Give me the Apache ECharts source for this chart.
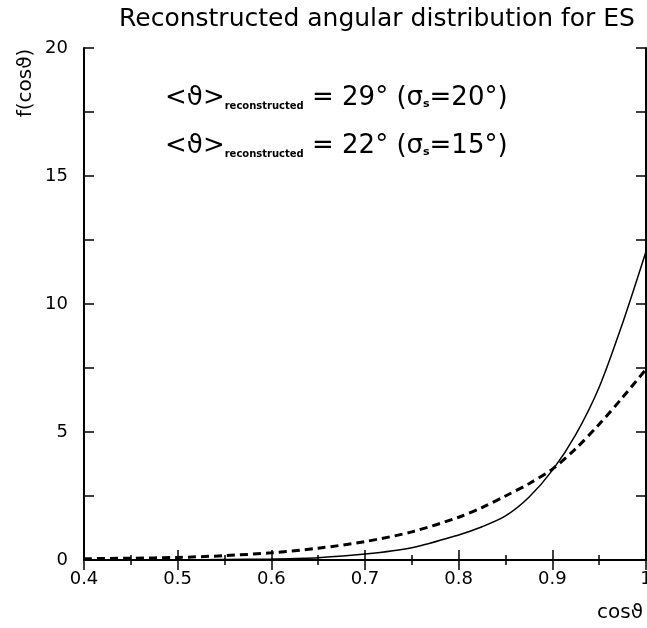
<!DOCTYPE html>
<html>
<head>
<meta charset="utf-8">
<script src="https://cdn.jsdelivr.net/npm/echarts@6/dist/echarts.min.js"></script>
<style>
  html, body { margin: 0; padding: 0; background: #fff; overflow: hidden; }
  #chart { width: 647px; height: 628px; }
</style>
</head>
<body>
<div id="chart"></div>
<script>
// cos(theta) sample points
const cosTheta = [0.40, 0.45, 0.50, 0.55, 0.60, 0.65, 0.70, 0.75, 0.80, 0.825, 0.85, 0.875, 0.90, 0.925, 0.95, 0.975, 1.00]
// sigma_s = 15 deg (solid)
const fSolid = [0.0, 0.0, 0.01, 0.02, 0.04, 0.09, 0.23, 0.48, 0.98, 1.3, 1.72, 2.45, 3.5, 4.9, 6.75, 9.25, 12.05]
// sigma_s = 20 deg (dashed)
const fDashed = [0.05, 0.07, 0.10, 0.17, 0.28, 0.46, 0.72, 1.1, 1.67, 2.05, 2.5, 2.98, 3.55, 4.35, 5.3, 6.35, 7.45]

const xTicks = [0.4, 0.5, 0.6, 0.7, 0.8, 0.9, 1.0]
const yTicks = [0, 5, 10, 15, 20]

const FONT = 'DejaVu Sans'

function pairs(xs, ys) {
  return xs.map((x, i) => [x, ys[i]])
}

const chart = echarts.init(document.getElementById('chart'))

const axisBase = {
  axisLine: { show: true, lineStyle: { color: '#000', width: 2 } },
  axisTick: { show: true, inside: true, length: 10, lineStyle: { color: '#000', width: 1.5 } },
  splitLine: { show: false }
}

const annRich = {
  a: { fontFamily: FONT, fontSize: 26, fill: '#000', lineHeight: 32 },
  s: { fontFamily: FONT, fontSize: 10, fontWeight: 'bold', fill: '#000', lineHeight: 32, padding: [17, 0, 0, 0] },
  t: { fontFamily: FONT, fontSize: 11, fontWeight: 'bold', fill: '#000', lineHeight: 32, padding: [13, 0, 0, 0] }
}

const option = {
  animation: false,
  backgroundColor: '#fff',
  title: {
    text: 'Reconstructed angular distribution for ES',
    left: 372,
    top: 2,
    textAlign: 'center',
    textStyle: { fontFamily: FONT, fontSize: 25, fontWeight: 'normal', color: '#000' }
  },
  grid: { left: 84, top: 48, width: 562, height: 512, containLabel: false, outerBoundsMode: 'none' },
  xAxis: [
    Object.assign({}, axisBase, {
      type: 'value', position: 'bottom',
      min: xTicks[0], max: xTicks[xTicks.length - 1], interval: 0.1,
      minorTick: { show: true, splitNumber: 2, length: 5, lineStyle: { color: '#000', width: 1.5 } },
      axisLabel: {
        margin: 10, color: '#000', fontFamily: FONT, fontSize: 18,
        formatter: v => (Math.abs(v - 1) < 1e-9 ? '1' : v.toFixed(1))
      }
    }),
    Object.assign({}, axisBase, {
      type: 'value', position: 'top',
      min: xTicks[0], max: xTicks[xTicks.length - 1], interval: 0.1,
      minorTick: { show: true, splitNumber: 2, length: 5, lineStyle: { color: '#000', width: 1.5 } },
      axisLabel: { show: false }
    })
  ],
  yAxis: [
    Object.assign({}, axisBase, {
      type: 'value', position: 'left',
      min: yTicks[0], max: yTicks[yTicks.length - 1], interval: 5,
      minorTick: { show: true, splitNumber: 2, length: 10, lineStyle: { color: '#000', width: 1.5 } },
      axisLabel: { margin: 16, color: '#000', fontFamily: FONT, fontSize: 18 }
    }),
    Object.assign({}, axisBase, {
      type: 'value', position: 'right',
      min: yTicks[0], max: yTicks[yTicks.length - 1], interval: 5,
      minorTick: { show: true, splitNumber: 2, length: 10, lineStyle: { color: '#000', width: 1.5 } },
      axisLabel: { show: false }
    })
  ],
  series: [
    {
      name: 'sigma15', type: 'line', smooth: 0.3, showSymbol: false,
      data: pairs(cosTheta, fSolid),
      lineStyle: { color: '#000', width: 1.5 }
    },
    {
      name: 'sigma20', type: 'line', smooth: 0.3, showSymbol: false,
      data: pairs(cosTheta, fDashed),
      lineStyle: { color: '#000', width: 3, type: [8, 5] }
    }
  ],
  graphic: [
    {
      type: 'text', x: 26, y: 83, rotation: Math.PI / 2,
      style: { text: 'f(cosϑ)', fontFamily: FONT, fontSize: 20, fill: '#000', align: 'center', verticalAlign: 'middle' }
    },
    {
      type: 'text', x: 620, y: 613,
      style: { text: 'cosϑ', fontFamily: FONT, fontSize: 20, fill: '#000', align: 'center', verticalAlign: 'middle' }
    },
    {
      type: 'text', x: 165, y: 98,
      style: { text: '{a|<ϑ>}{s|reconstructed}{a| = 29° (σ}{t|s}{a|=20°)}', verticalAlign: 'middle', rich: annRich }
    },
    {
      type: 'text', x: 165, y: 146,
      style: { text: '{a|<ϑ>}{s|reconstructed}{a| = 22° (σ}{t|s}{a|=15°)}', verticalAlign: 'middle', rich: annRich }
    }
  ]
}

chart.setOption(option)
</script>
</body>
</html>
